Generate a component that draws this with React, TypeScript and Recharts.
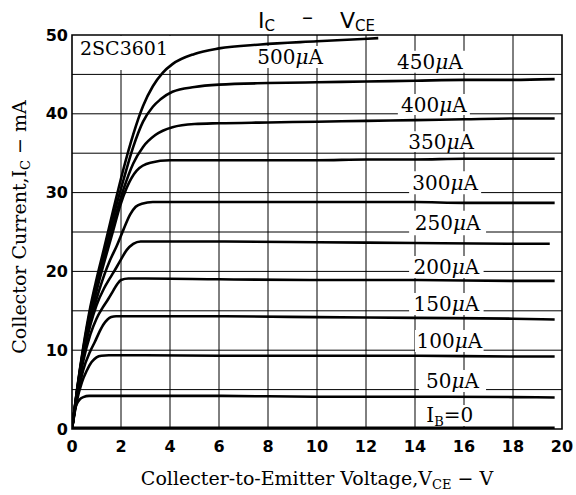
import React from 'react';
import { LineChart, Line, XAxis, YAxis, CartesianGrid, ReferenceArea } from 'recharts';

// ---- axis ticks / grid ----
const xTicks = [0, 2, 4, 6, 8, 10, 12, 14, 16, 18, 20];
const yTicks = [0, 10, 20, 30, 40, 50];
const xGridValues = [2, 4, 6, 8, 10, 12, 14, 16, 18];
const yGridValues = [5, 10, 15, 20, 25, 30, 35, 40, 45];

// ---- curves: VCE (V) and IC (mA) per base current ----
const vce500 = [0, 0.2, 0.45, 0.75, 1.0, 1.3, 1.7, 2.1, 2.5, 2.9, 3.3, 3.7, 4.1, 5, 6, 7.7, 10, 12.5];
const ic500 = [0, 4.9, 10.2, 15.5, 19.0, 22.8, 28.0, 33.0, 37.4, 41.0, 43.5, 45.2, 46.3, 47.6, 48.3, 48.8, 49.2, 49.6];

const vce450 = [0, 0.2, 0.45, 0.75, 1.0, 1.3, 1.7, 2.1, 2.5, 2.9, 3.3, 3.6, 4.1, 5, 6, 8, 10, 12, 14, 16, 18, 19.7];
const ic450 = [0, 4.8, 10.0, 15.1, 18.5, 22.2, 27.1, 31.6, 35.8, 39.0, 40.9, 41.8, 42.8, 43.4, 43.7, 43.9, 44.0, 44.1, 44.2, 44.3, 44.3, 44.4];

const vce400 = [0, 0.2, 0.45, 0.75, 1.0, 1.3, 1.7, 2.1, 2.5, 2.9, 3.4, 4.1, 5, 6, 8, 10, 12, 14, 16, 18, 19.7];
const ic400 = [0, 4.7, 9.8, 14.7, 18.0, 21.6, 26.2, 30.4, 33.7, 35.8, 37.3, 38.3, 38.7, 38.8, 38.9, 39.0, 39.1, 39.2, 39.3, 39.4, 39.4];

const vce350 = [0, 0.2, 0.45, 0.75, 1.0, 1.3, 1.7, 1.96, 2.23, 2.64, 3.2, 4, 6, 8, 10, 12, 14, 16, 18, 19.7];
const ic350 = [0, 4.6, 9.6, 14.3, 17.5, 21.0, 25.4, 28.3, 30.6, 32.8, 33.8, 34.1, 34.1, 34.1, 34.1, 34.2, 34.2, 34.3, 34.3, 34.3];

const vce300 = [0, 0.2, 0.45, 0.75, 1.0, 1.3, 1.55, 1.82, 2.1, 2.37, 2.6, 2.85, 3.3, 4, 6, 8, 10, 12, 14, 16, 18, 19.7];
const ic300 = [0, 4.5, 9.3, 13.8, 16.5, 19.4, 21.4, 23.2, 25.3, 27.2, 28.2, 28.6, 28.8, 28.8, 28.8, 28.8, 28.8, 28.8, 28.8, 28.7, 28.7, 28.7];

const vce250 = [0, 0.2, 0.45, 0.75, 1.0, 1.3, 1.5, 1.7, 1.96, 2.23, 2.5, 2.8, 3.5, 6, 10, 14, 18, 19.5];
const ic250 = [0, 4.4, 9.0, 13.2, 15.7, 17.8, 18.9, 19.9, 21.3, 22.7, 23.5, 23.8, 23.8, 23.8, 23.7, 23.6, 23.5, 23.5];

const vce200 = [0, 0.2, 0.45, 0.75, 1.0, 1.25, 1.48, 1.69, 1.85, 2.0, 2.3, 3, 6, 10, 14, 18, 19.7];
const ic200 = [0, 4.2, 8.5, 12.0, 14.0, 15.4, 16.5, 17.6, 18.4, 18.9, 19.1, 19.1, 19.0, 18.9, 18.9, 18.8, 18.8];

const vce150 = [0, 0.2, 0.45, 0.75, 0.94, 1.1, 1.27, 1.45, 1.6, 1.8, 3, 6, 10, 14, 18, 19.7];
const ic150 = [0, 3.9, 7.4, 9.9, 11.1, 12.2, 13.2, 13.9, 14.2, 14.3, 14.3, 14.3, 14.2, 14.1, 14.0, 13.9];

const vce100 = [0, 0.2, 0.4, 0.6, 0.8, 1.0, 1.2, 1.5, 3, 6, 10, 14, 18, 19.7];
const ic100 = [0, 3.6, 5.9, 7.4, 8.5, 9.1, 9.3, 9.35, 9.35, 9.3, 9.3, 9.3, 9.2, 9.2];

const vce50 = [0, 0.05, 0.12, 0.2, 0.3, 0.46, 0.7, 1, 3, 6, 10, 14, 18, 19.7];
const ic50 = [0, 1.4, 2.5, 3.2, 3.7, 4.05, 4.2, 4.2, 4.2, 4.2, 4.1, 4.1, 4.05, 4.0];

const vce0 = [0, 19.7];
const ic0 = [0.15, 0.15];

const curveIds = ['500', '450', '400', '350', '300', '250', '200', '150', '100', '50', '0'];
const curveV = [vce500, vce450, vce400, vce350, vce300, vce250, vce200, vce150, vce100, vce50, vce0];
const curveI = [ic500, ic450, ic400, ic350, ic300, ic250, ic200, ic150, ic100, ic50, ic0];

// ---- curve label boxes (data coords: V from/to, mA from/to) ----
const labelIds = ['500', '450', '400', '350', '300', '250', '200', '150', '100', '50', '0'];
const labelV1 = [7.43, 13.14, 13.3, 13.6, 13.76, 13.76, 13.76, 13.76, 14.0, 14.16, 14.04];
const labelV2 = [10.37, 16.08, 16.24, 16.53, 16.7, 16.9, 16.8, 16.8, 16.8, 16.9, 16.8];
const labelI1 = [45.8, 45.2, 39.85, 35.15, 29.8, 24.6, 19.16, 14.47, 9.77, 4.7, 0.38];
const labelI2 = [48.6, 48.0, 42.5, 37.8, 32.7, 27.7, 21.95, 17.26, 12.56, 7.49, 3.05];

const toPoints = (vs: number[], is: number[]) => vs.map((v, k) => ({ v, i: is[k] }));

const SERIF = 'DejaVu Serif';
const SANS = 'DejaVu Sans';

const makeLabel = (id: string) => (props: any) => {
  const vb = props.viewBox || {};
  const cx = vb.x + vb.width / 2;
  const cy = vb.y + vb.height / 2;
  if (id === '0') {
    return (
      <text x={cx} y={cy + 7} textAnchor="middle" fontFamily={SERIF} fontSize={20} fill="#000">
        I<tspan fontSize={13} dy={4}>B</tspan>
        <tspan dy={-4}>=0</tspan>
      </text>
    );
  }
  return (
    <text x={cx} y={cy + 7} textAnchor="middle" fontFamily={SERIF} fontSize={20} fill="#000">
      {id}
      <tspan fontStyle="italic">μ</tspan>A
    </text>
  );
};

export default function App() {
  return (
    <div style={{ position: 'absolute', left: 0, top: 0, width: 576, height: 495, background: '#fff' }}>
      <LineChart width={576} height={495} margin={{ top: 35, right: 14, bottom: 0, left: 0 }}>
        <CartesianGrid
          horizontalValues={yGridValues}
          verticalValues={xGridValues}
          stroke="#000"
          strokeWidth={1}
          fill="none"
        />
        <XAxis
          dataKey="v"
          type="number"
          domain={[0, 20]}
          ticks={xTicks}
          interval={0}
          height={66}
          axisLine={false}
          tickLine={false}
          tickSize={6}
          tickMargin={6}
          tick={{ fontFamily: SANS, fontWeight: 700, fontSize: 16, fill: '#000' }}
          allowDataOverflow
        />
        <YAxis
          type="number"
          domain={[0, 50]}
          ticks={yTicks}
          interval={0}
          width={72}
          axisLine={false}
          tickLine={false}
          tickSize={4}
          tickMargin={0}
          tick={{ fontFamily: SANS, fontWeight: 700, fontSize: 16, fill: '#000' }}
          allowDataOverflow
        />
        <ReferenceArea x1={0.04} x2={4.12} y1={45.56} y2={49.9} fill="#fff" fillOpacity={1} stroke="none" ifOverflow="visible" />
        {labelIds.map((id, k) => (
          <ReferenceArea
            key={'lb' + id}
            x1={labelV1[k]}
            x2={labelV2[k]}
            y1={labelI1[k]}
            y2={labelI2[k]}
            fill="#fff"
            fillOpacity={1}
            stroke="none"
            ifOverflow="visible"
            label={makeLabel(id)}
          />
        ))}
        <ReferenceArea x1={0} x2={20} y1={0} y2={50} fill="none" stroke="#000" strokeWidth={1.6} ifOverflow="visible" />
        {curveIds.map((id, k) => (
          <Line
            key={'c' + id}
            data={toPoints(curveV[k], curveI[k])}
            dataKey="i"
            type="monotone"
            stroke="#000"
            strokeWidth={2.6}
            dot={false}
            activeDot={false}
            isAnimationActive={false}
          />
        ))}
      </LineChart>
      <svg width={576} height={495} style={{ position: 'absolute', left: 0, top: 0, pointerEvents: 'none' }}>
        <text x={258} y={28} fontFamily={SANS} fontSize={22} fill="#000">
          I<tspan fontSize={15} dy={3}>C</tspan>
        </text>
        <text x={302} y={24} fontFamily={SANS} fontSize={22} fill="#000">–</text>
        <text x={340} y={28} fontFamily={SANS} fontSize={22} fill="#000">
          V<tspan fontSize={15} dy={3}>CE</tspan>
        </text>
        <text x={80} y={55} fontFamily={SERIF} fontSize={19} fill="#000">2SC3601</text>
        <text x={317} y={485} textAnchor="middle" fontFamily={SERIF} fontSize={19} fill="#000">
          Collecter-to-Emitter Voltage,V<tspan fontSize={13} dy={4}>CE</tspan>
          <tspan dy={-4}> − V</tspan>
        </text>
        <text transform="rotate(-90)" x={-227} y={26} textAnchor="middle" fontFamily={SERIF} fontSize={19} fill="#000">
          Collector Current,I<tspan fontSize={13} dy={4}>C</tspan>
          <tspan dy={-4}> − mA</tspan>
        </text>
      </svg>
    </div>
  );
}
